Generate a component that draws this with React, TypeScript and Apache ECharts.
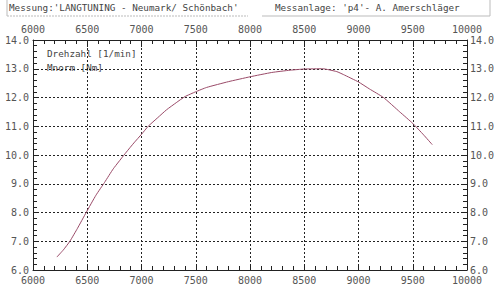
import React, { useEffect, useRef } from "react";
import * as echarts from "echarts";

const rpm = [6220, 6280, 6340, 6410, 6490, 6580, 6660, 6740, 6860, 6930, 7000, 7062, 7150, 7230, 7320, 7400, 7500, 7600, 7800, 8000, 8200, 8370, 8500, 8670, 8800, 8860, 9000, 9100, 9230, 9380, 9500, 9600, 9680];
const torque = [6.45, 6.7, 7.0, 7.45, 8.0, 8.6, 9.05, 9.52, 10.1, 10.42, 10.72, 11.0, 11.3, 11.57, 11.82, 12.03, 12.2, 12.35, 12.55, 12.72, 12.87, 12.95, 12.99, 13.0, 12.9, 12.8, 12.54, 12.3, 12.0, 11.5, 11.1, 10.7, 10.36];
const titleLeft = "Messung:'LANGTUNING - Neumark/ Schönbach'";
const titleRight = "Messanlage: 'p4'- A. Amerschläger";
const legendLines = ["Drehzahl [1/min]", "Mnorm [Nm]"];

const MONO = "DejaVu Sans Mono";

export default function App() {
  const ref = useRef<HTMLDivElement>(null);
  useEffect(() => {
    const chart = echarts.init(ref.current!, null, { renderer: "svg" });
    const xAxisBase = (pos: "top" | "bottom", grid: boolean) => ({
      type: "value",
      position: pos,
      min: 6000,
      max: 10000,
      interval: 500,
      axisLine: { show: true, lineStyle: { color: "#222", width: 1 } },
      axisTick: { show: true, inside: true, length: pos === "top" ? 7 : 5, lineStyle: { color: "#222" } },
      minorTick: { show: true, splitNumber: 5, length: 4, lineStyle: { color: "#222" } },
      axisLabel: {
        color: "#555",
        fontFamily: MONO,
        fontSize: 10,
        margin: pos === "top" ? 6 : 5,
        formatter: (v: number) => String(v),
      },
      splitLine: grid ? { show: true, lineStyle: { color: "#222", type: [2, 2], width: 1 } } : { show: false },
    });
    const yAxisBase = (pos: "left" | "right", grid: boolean) => ({
      type: "value",
      position: pos,
      min: 6,
      max: 14,
      interval: 1,
      axisLine: { show: true, lineStyle: { color: "#222", width: 1 } },
      axisTick: { show: true, inside: true, length: 5, lineStyle: { color: "#222" } },
      minorTick: { show: true, splitNumber: 5, length: 4, lineStyle: { color: "#222" } },
      axisLabel: {
        color: "#555",
        fontFamily: MONO,
        fontSize: 10,
        margin: pos === "left" ? 4 : 3,
        formatter: (v: number) => v.toFixed(1),
      },
      splitLine: grid ? { show: true, lineStyle: { color: "#222", type: [2, 2], width: 1 } } : { show: false },
    });
    chart.setOption({
      animation: false,
      backgroundColor: "#fff",
      grid: { left: 33, right: 33, top: 40, bottom: 21, containLabel: false },
      xAxis: [xAxisBase("bottom", true), xAxisBase("top", false)],
      yAxis: [yAxisBase("left", true), yAxisBase("right", false)],
      series: [
        {
          type: "line",
          data: rpm.map((r, i) => [r, torque[i]]),
          showSymbol: false,
          smooth: 0.15,
          lineStyle: { color: "#9a4a68", width: 1 },
          xAxisIndex: 0,
          yAxisIndex: 0,
        },
      ],
      graphic: [
        { type: "line", shape: { x1: 7, y1: 0, x2: 7, y2: 16 }, style: { stroke: "#bbb", lineWidth: 1 } },
        { type: "line", shape: { x1: 7, y1: 16, x2: 248, y2: 16 }, style: { stroke: "#bbb", lineWidth: 1, lineDash: [2, 1] } },
        { type: "line", shape: { x1: 490, y1: 0, x2: 490, y2: 16 }, style: { stroke: "#bbb", lineWidth: 1 } },
        { type: "line", shape: { x1: 262, y1: 16, x2: 490, y2: 16 }, style: { stroke: "#bbb", lineWidth: 1 } },
        {
          type: "text",
          left: 9,
          top: 3,
          style: { text: titleLeft, fontFamily: MONO, fontSize: 9.3, fill: "#444" },
        },
        {
          type: "text",
          left: 275,
          top: 3,
          style: { text: titleRight, fontFamily: MONO, fontSize: 9.3, fill: "#444" },
        },
        {
          type: "text",
          left: 47,
          top: 49,
          style: { text: legendLines[0], fontFamily: MONO, fontSize: 9.3, fill: "#444" },
        },
        {
          type: "text",
          left: 47,
          top: 63,
          style: { text: legendLines[1], fontFamily: MONO, fontSize: 9.3, fill: "#444" },
        },
      ],
    });
    return () => chart.dispose();
  }, []);
  return <div ref={ref} style={{ width: 500, height: 291, position: "absolute", left: 0, top: 0 }} />;
}
